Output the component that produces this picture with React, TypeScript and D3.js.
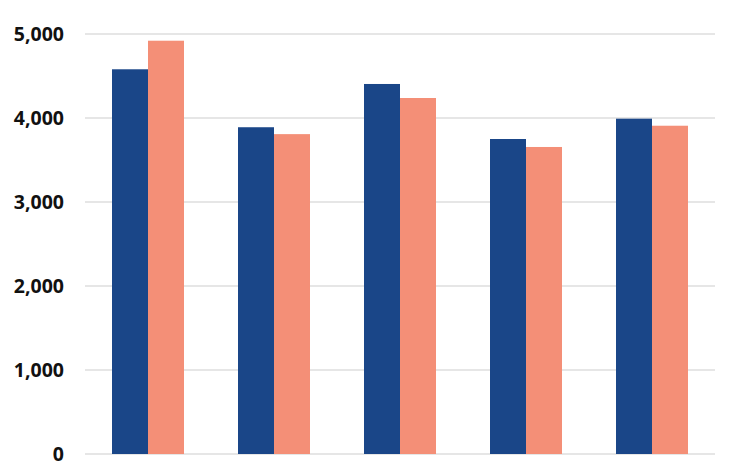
import React from "react";
import * as d3 from "d3";

const categories = ["A", "B", "C", "D", "E"];
const series1 = [4580, 3890, 4405, 3750, 3992];
const series2 = [4920, 3808, 4238, 3655, 3908];
const yTicks = [0, 1000, 2000, 3000, 4000, 5000];

const W = 747;
const H = 472;

export default function App() {
  const x = d3
    .scaleBand<string>()
    .domain(categories)
    .range([85, 715])
    .paddingInner(0.4286)
    .paddingOuter(0.2143);
  const y = d3.scaleLinear().domain([0, 5000]).range([454, 34]);
  const bw = x.bandwidth() / 2;
  const fmt = d3.format(",");
  return (
    <svg
      width={W}
      height={H}
      style={{ position: "absolute", left: 0, top: 0, background: "#fff" }}
    >
      {yTicks.map((t) => (
        <g key={t}>
          <line x1={85} x2={715} y1={y(t)} y2={y(t)} stroke="#dedede" strokeWidth={1.5} />
          <text
            x={64}
            y={y(t)}
            dy="0.35em"
            textAnchor="end"
            fontFamily="'Open Sans', sans-serif"
            fontWeight={700}
            fontSize={19.5}
            fill="#111"
          >
            {fmt(t)}
          </text>
        </g>
      ))}
      {categories.map((c, i) => (
        <g key={c}>
          <rect
            x={x(c)!}
            y={y(series1[i])}
            width={bw}
            height={y(0) - y(series1[i])}
            fill="#1a4688"
          />
          <rect
            x={x(c)! + bw}
            y={y(series2[i])}
            width={bw}
            height={y(0) - y(series2[i])}
            fill="#f48f77"
          />
        </g>
      ))}
    </svg>
  );
}
